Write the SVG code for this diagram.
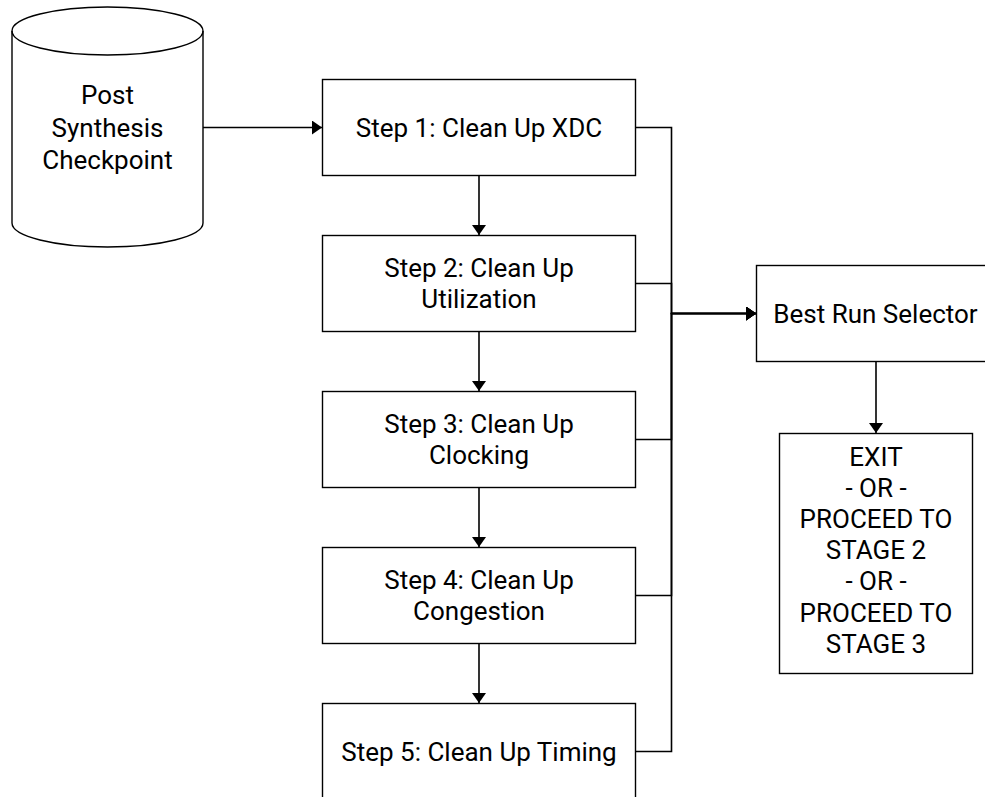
<svg xmlns="http://www.w3.org/2000/svg" width="985" height="797" viewBox="0 0 985 797">
<style>
.box{fill:#fff;stroke:#000;stroke-width:1.4}
.edge{fill:none;stroke:#000;stroke-width:1.6}
text{font-family:Roboto,"Liberation Sans",sans-serif;font-size:26px;fill:#000;text-anchor:middle}
</style>
<defs>
<marker id="ah" markerUnits="userSpaceOnUse" markerWidth="10" markerHeight="14" refX="10" refY="7" orient="auto">
<path d="M0,0 L10,7 L0,14 z" fill="#000"/>
</marker>
</defs>
<rect width="985" height="797" fill="#fff"/>
<g id="connectors">
<path class="edge" d="M203,127.5 H322" marker-end="url(#ah)"/>
<path class="edge" d="M479,175.5 V235" marker-end="url(#ah)"/>
<path class="edge" d="M479,331.5 V391" marker-end="url(#ah)"/>
<path class="edge" d="M479,487.5 V547" marker-end="url(#ah)"/>
<path class="edge" d="M479,643.5 V703" marker-end="url(#ah)"/>
<path class="edge" d="M635.5,127.5 H671.5 V313.5 H756" marker-end="url(#ah)"/>
<path class="edge" d="M635.5,283.5 H671.5 V313.5 H756" marker-end="url(#ah)"/>
<path class="edge" d="M635.5,439.5 H671.5 V313.5 H756" marker-end="url(#ah)"/>
<path class="edge" d="M635.5,595.5 H671.5 V313.5 H756" marker-end="url(#ah)"/>
<path class="edge" d="M635.5,751.5 H671.5 V313.5 H756" marker-end="url(#ah)"/>
<path class="edge" d="M876,361.5 V433" marker-end="url(#ah)"/>
</g>
<g id="checkpoint">
<path class="box" d="M12,31 A95.5,24 0 0 1 203,31 V223 A95.5,24 0 0 1 12,223 Z"/>
<path class="box" style="fill:none" d="M12,31 A95.5,24 0 0 0 203,31"/>
<text x="107.5" y="104">Post</text>
<text x="107.5" y="136.5">Synthesis</text>
<text x="107.5" y="169">Checkpoint</text>
</g>
<g id="step1">
<rect class="box" x="322.5" y="79.5" width="313" height="96"/>
<text x="479" y="136.5">Step 1: Clean Up XDC</text>
</g>
<g id="step2">
<rect class="box" x="322.5" y="235.5" width="313" height="96"/>
<text x="479" y="276.5">Step 2: Clean Up</text>
<text x="479" y="307.7">Utilization</text>
</g>
<g id="step3">
<rect class="box" x="322.5" y="391.5" width="313" height="96"/>
<text x="479" y="432.5">Step 3: Clean Up</text>
<text x="479" y="463.7">Clocking</text>
</g>
<g id="step4">
<rect class="box" x="322.5" y="547.5" width="313" height="96"/>
<text x="479" y="588.5">Step 4: Clean Up</text>
<text x="479" y="619.7">Congestion</text>
</g>
<g id="step5">
<rect class="box" x="322.5" y="703.5" width="313" height="96"/>
<text x="479" y="760.5">Step 5: Clean Up Timing</text>
</g>
<g id="selector">
<rect class="box" x="756.5" y="265.5" width="238" height="96"/>
<text x="875.5" y="322.5">Best Run Selector</text>
</g>
<g id="exit">
<rect class="box" x="779.5" y="433.5" width="193" height="240"/>
<text x="876" y="465.5">EXIT</text>
<text x="876" y="496.7">- OR -</text>
<text x="876" y="527.9">PROCEED TO</text>
<text x="876" y="559.1">STAGE 2</text>
<text x="876" y="590.3">- OR -</text>
<text x="876" y="621.5">PROCEED TO</text>
<text x="876" y="652.7">STAGE 3</text>
</g>
</svg>
